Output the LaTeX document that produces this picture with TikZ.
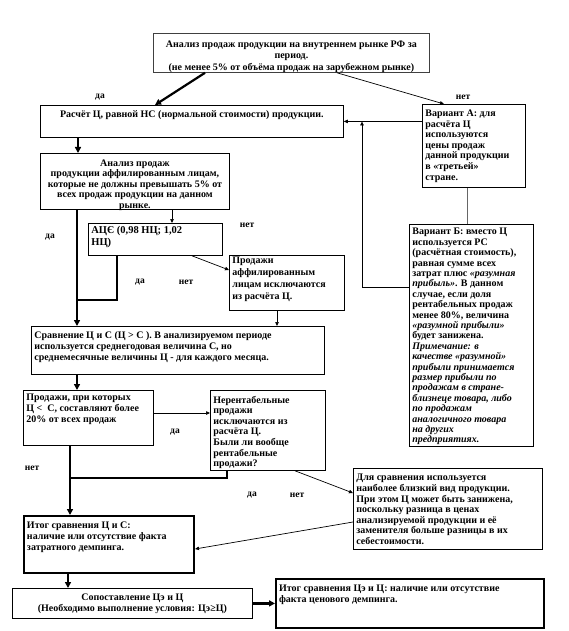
\documentclass[tikz,border=0pt]{standalone}
\usepackage{fontspec}
\setmainfont{Liberation Serif}
\usetikzlibrary{arrows.meta, calc}
\newcommand{\cellbox}[4][3.5pt]{\parbox[c][#3][t]{#2}{\vspace*{#1}#4}}

\begin{document}
\begin{tikzpicture}[x=1pt, y=-1pt,
    every node/.style={font=\bfseries\fontsize{10}{10.6}\selectfont},
    box/.style={draw, anchor=north west, inner xsep=3pt, inner ysep=2pt, line width=0.8pt},
    bigbox/.style={box, line width=2pt},
    lbl/.style={font=\bfseries\fontsize{9.5}{10}\selectfont, inner sep=0pt},
    thin/.style={line width=0.7pt, -{Triangle[length=4pt, width=3.5pt]}},
    fat/.style={line width=2.2pt, -{Triangle[length=6pt, width=6pt]}},
    fatline/.style={line width=2.2pt}]
    \useasboundingbox (0,0) rectangle (569,631);

    % boxes
    \node[box, draw=black!75] (top) at (153,33) {\cellbox[5.5pt]{270pt}{35pt}{\centering
        \fontsize{10}{11.5}\selectfont
        Анализ продаж продукции на внутреннем рынке РФ за\\ период.\\
        (не менее 5\% от объёма продаж на зарубежном рынке)}};
    \node[box] (raschet) at (40,105) {\cellbox{297pt}{28pt}{\centering
        Расчёт Ц, равной НС (нормальной стоимости) продукции.}};
    \node[box] (varA) at (422,104) {\cellbox{97pt}{79pt}{\raggedright
        Вариант А: для\\ расчёта Ц\\ используются\\ цены продаж\\
        данной продукции\\ в «третьей»\\ стране.}};
    \node[box] (affil) at (40,153) {\cellbox[4pt]{183pt}{52pt}{\centering
        Анализ продаж\\ продукции аффилированным лицам,\\
        которые не должны превышать 5\% от\\ всех продаж продукции на данном\\ рынке.}};
    \node[box] (ace) at (88,223) {\cellbox[1pt]{128pt}{28pt}{\raggedright
        \fontsize{10.5}{12}\selectfont АЦЄ (0,98 НЦ; 1,02\\ НЦ)}};
    \node[box] (affex) at (229,255) {\cellbox[0pt]{109pt}{51pt}{\raggedright
        \fontsize{10}{11.7}\selectfont
        Продажи\\ аффилированным\\ лицам исключаются\\ из расчёта Ц.}};
    \node[box] (varB) at (409,224) {\cellbox[2pt]{118pt}{218pt}{\raggedright
        \fontsize{10}{10.4}\selectfont
        Вариант Б: вместо Ц\\ используется РС\\ (расчётная стоимость),\\
        равная сумме всех\\ затрат плюс \textit{«разумная}\\ \textit{прибыль»}. В данном\\
        случае, если доля\\ рентабельных продаж\\ менее 80\%, величина\\
        \textit{«разумной прибыли»}\\ будет занижена.\\
        \itshape Примечание: в\\ качестве «разумной»\\ прибыли принимается\\
        размер прибыли по\\ продажам в стране-\\ близнеце товара, либо\\
        по продажам\\ аналогичного товара\\ на других\\ предприятиях.}};
    \node[box] (compare) at (31,326) {\cellbox{287pt}{44pt}{\raggedright
        Сравнение Ц и С (Ц > С ). В анализируемом периоде\\
        используется среднегодовая величина С, но\\
        среднемесячные величины Ц - для каждого месяца.}};
    \node[box] (below) at (23,390) {\cellbox[2pt]{124pt}{51pt}{\raggedright
        Продажи, при которых\\ Ц <\enspace С, составляют более\\ 20\% от всех продаж}};
    \node[box] (unprof) at (210,390) {\cellbox{109pt}{76pt}{\raggedright
        Нерентабельные\\ продажи\\ исключаются из\\ расчёта Ц.\\
        Были ли вообще\\ рентабельные\\ продажи?}};
    \node[box] (analog) at (353,468) {\cellbox[4pt]{183pt}{77pt}{\raggedright
        Для сравнения используется\\ наиболее близкий вид продукции.\\
        При этом Ц может быть занижена,\\ поскольку разница в ценах\\
        анализируемой продукции и её\\ заменителя больше разницы в их\\ себестоимости.}};
    \node[bigbox] (result1) at (23,515) {\cellbox{164pt}{53pt}{\raggedright
        \fontsize{10}{11.3}\selectfont
        Итог сравнения Ц и С:\\ наличие или отсутствие факта\\ затратного демпинга.}};
    \node[box] (match) at (12,588) {\cellbox{234pt}{26pt}{\centering
        Сопоставление Цэ и Ц\\ (Необходимо выполнение условия: Цэ≥Ц)}};
    \node[bigbox] (result2) at (275,578) {\cellbox[4pt]{262pt}{45pt}{\raggedright
        Итог сравнения Цэ и Ц: наличие или отсутствие\\ факта ценового демпинга.}};

    % labels
    \node[lbl] (yes1) at (100,97) {да};
    \node[lbl] (no1) at (463,97) {нет};
    \node[lbl] (no2) at (247,225) {нет};
    \node[lbl] (yes2) at (50,237) {да};
    \node[lbl] (yes3) at (140,282) {да};
    \node[lbl] (no3) at (186,282) {нет};
    \node[lbl] (yes4) at (175,432) {да};
    \node[lbl] (no4) at (32,468) {нет};
    \node[lbl] (yes5) at (252,495) {да};
    \node[lbl] (no5) at (297,495) {нет};

    % helper coordinates
    \coordinate (xa) at (205,0);
    \coordinate (xb) at (155,0);
    \coordinate (xc) at (337,0);
    \coordinate (xd) at (444,0);
    \coordinate (xe) at (467,0);
    \coordinate (xf) at (362,0);
    \coordinate (xg) at (78,0);
    \coordinate (xt) at (77,0);
    \coordinate (xh) at (172,0);
    \coordinate (xi) at (117,0);
    \coordinate (xj) at (192,0);
    \coordinate (xk) at (277,0);
    \coordinate (xl) at (70,0);
    \coordinate (xm) at (227,0);
    \coordinate (xn) at (295,0);
    \coordinate (xo) at (68,0);
    \coordinate (yb) at (0,287);
    \coordinate (yj) at (0,300);
    \coordinate (yk) at (0,413);
    \coordinate (yl) at (0,478);

    % connectors
    \draw[fat] (top.south -| xa) -- (raschet.north -| xb);
    \draw[thin] (top.south -| xc) -- (varA.north -| xd);
    \draw[thin] (varA.west |- raschet.east) -- (raschet.east);
    \draw[line width=0.8pt, black!60] (varA.south -| xe) -- (varB.north -| xe);
    \draw[thin] (varB.west |- yb) -| (raschet.east -| xf);
    \draw[fat] (raschet.south -| xg) -- (affil.north -| xg);
    \draw[fat] (affil.south -| xt) -- (compare.north -| xt);
    \draw[thin] (affil.south -| xh) -- (ace.north -| xh);
    \draw[fatline] (ace.south -| xi) |- (xt |- yj);
    \draw[thin] (ace.south -| xj) -- ([yshift=-15pt]affex.north west);
    \draw[thin] (affex.south -| xk) -- (compare.north -| xk);
    \draw[fat] (compare.south -| xt) -- (below.north -| xt);
    \draw[thin] (below.east |- yk) -- (unprof.west |- yk);
    \draw[fat] (below.south -| xl) -- (result1.north -| xl);
    \draw[fatline] (unprof.south -| xm) |- (xl |- yl);
    \draw[thin] (unprof.south -| xn) -- ([yshift=-25pt]analog.north west);
    \draw[thin] ([yshift=-54pt]analog.north west) -- ([yshift=-34pt]result1.north east);
    \draw[fat] (result1.south -| xo) -- (match.north -| xo);
    \draw[fat] (match.east) -- (result2.west |- match.east);

\end{tikzpicture}
\end{document}
